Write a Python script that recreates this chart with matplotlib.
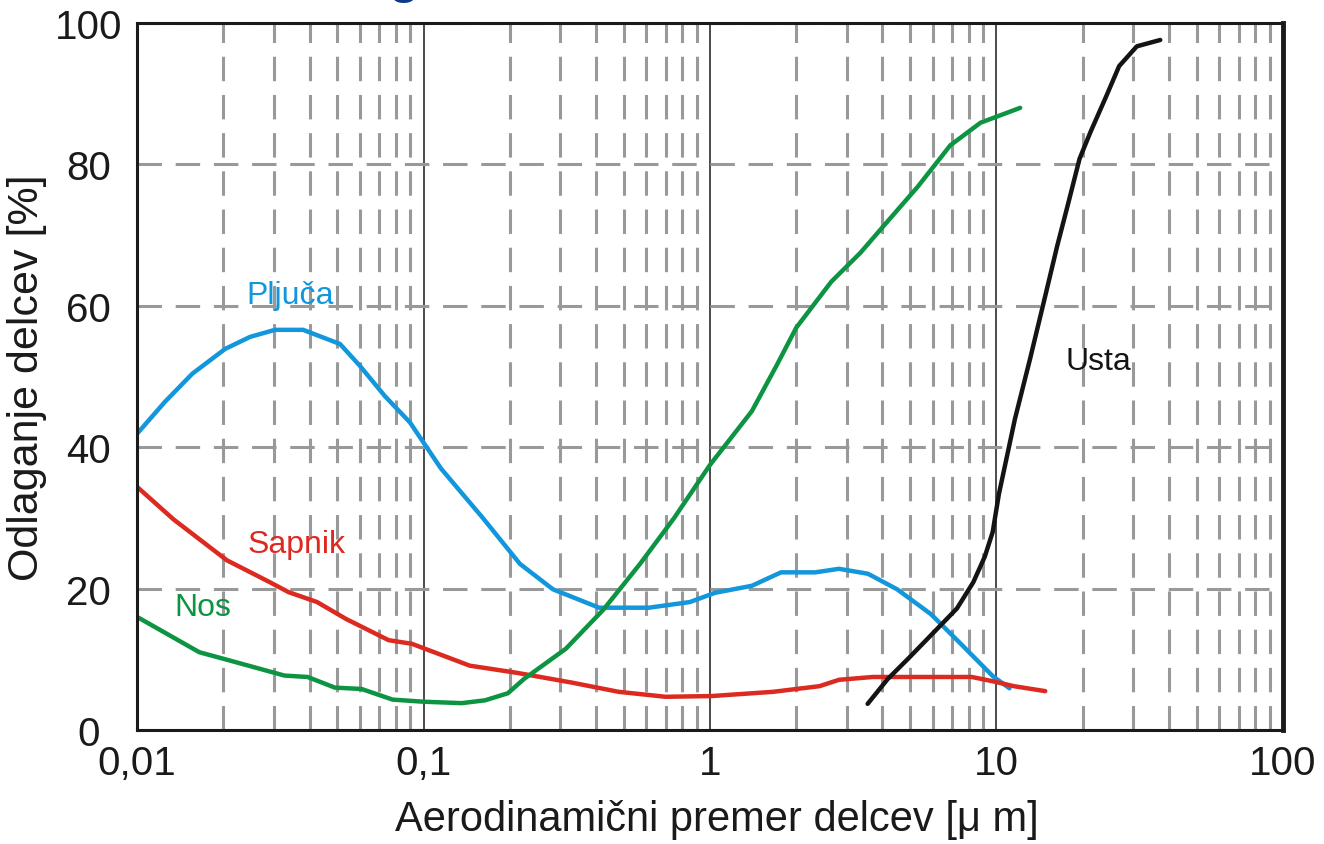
import matplotlib.pyplot as plt
from matplotlib.ticker import FixedLocator, FixedFormatter, LogLocator, NullFormatter

plt.rcParams['font.family'] = ['Liberation Sans', 'DejaVu Sans']

# Values (x in um, y in %)
pluca_x = [0.0100, 0.0125, 0.0156, 0.0203, 0.0248, 0.0303, 0.0380, 0.0511, 0.060, 0.0734,
           0.0897, 0.115, 0.161, 0.217, 0.283, 0.410, 0.612, 0.851, 1.04, 1.40, 1.77,
           2.33, 2.82, 3.56, 4.50, 5.90, 7.46, 9.72, 11.1]
pluca_y = [41.9, 46.4, 50.4, 53.9, 55.6, 56.6, 56.6, 54.6, 51.5, 47.2,
           43.5, 37.0, 30.0, 23.5, 19.9, 17.3, 17.3, 18.1, 19.4, 20.4, 22.3,
           22.3, 22.8, 22.1, 19.9, 16.4, 12.3, 7.6, 5.9]

nos_x = [0.0100, 0.0121, 0.0165, 0.0212, 0.0327, 0.0394, 0.049, 0.0608, 0.078, 0.100,
         0.136, 0.164, 0.197, 0.224, 0.314, 0.424, 0.57, 0.75, 1.0, 1.40, 1.71, 2.0,
         2.65, 3.35, 4.2, 5.3, 6.9, 8.8, 12.1]
nos_y = [16.0, 14.1, 11.0, 9.8, 7.7, 7.5, 6.0, 5.8, 4.3, 4.0,
         3.8, 4.2, 5.2, 7.2, 11.5, 17.0, 23.5, 30.0, 37.5, 45.1, 51.6, 56.9,
         63.4, 67.5, 72.1, 76.8, 82.7, 85.9, 88.0]

sapnik_x = [0.0100, 0.0134, 0.0206, 0.0291, 0.0338, 0.0425, 0.0537, 0.0756, 0.091, 0.145,
            0.211, 0.33, 0.48, 0.70, 1.01, 1.66, 2.41, 2.82, 3.70, 8.2, 9.7, 11.5, 14.8]
sapnik_y = [34.4, 29.8, 24.0, 20.9, 19.5, 18.1, 15.7, 12.7, 12.2, 9.1,
            8.1, 6.7, 5.4, 4.7, 4.8, 5.4, 6.2, 7.1, 7.5, 7.5, 6.9, 6.2, 5.5]

usta_x = [3.55, 4.17, 4.92, 6.38, 7.28, 8.3, 9.1, 9.7, 10.2, 11.6, 13.1, 14.8, 16.3,
          17.7, 19.5, 21.3, 24.2, 26.8, 30.9, 37.3]
usta_y = [3.7, 7.2, 10.1, 14.8, 17.2, 20.9, 24.5, 28.0, 33.4, 44.0, 52.5, 61.4, 68.5,
          74.1, 80.8, 84.6, 89.7, 93.9, 96.7, 97.6]

xticks = [0.01, 0.1, 1, 10, 100]
xtick_labels = ['0,01', '0,1', '1', '10', '100']
yticks = [0, 20, 40, 60, 80, 100]

blue = '#1296dc'
red = '#dc2a20'
green = '#0d9442'
black = '#141414'
grey = '#999999'

fig = plt.figure(figsize=(13.24, 8.45), dpi=100)
ax = fig.add_axes([0.1035, 0.1349, 0.8655, 0.8367])

ax.set_xscale('log')
ax.set_xlim(0.01, 100)
ax.set_ylim(0, 100)

# grid: solid black decades, dashed grey minor verticals and horizontals
ax.xaxis.set_major_locator(FixedLocator(xticks))
ax.xaxis.set_major_formatter(FixedFormatter(xtick_labels))
ax.xaxis.set_minor_locator(LogLocator(base=10, subs=range(2, 10)))
ax.xaxis.set_minor_formatter(NullFormatter())
ax.set_yticks(yticks)
ax.grid(which='major', axis='x', color='#1a1a1a', lw=1.1, ls='-')
ax.grid(which='minor', axis='x', color=grey, lw=2.2, ls=(0, (8, 4.5)))
ax.grid(which='major', axis='y', color=grey, lw=2.2, ls=(0, (8, 4.5)))
ax.set_axisbelow(True)

ax.tick_params(which='both', length=0)
ax.tick_params(axis='x', labelsize=29, pad=10, colors='#1a1a1a')
ax.tick_params(axis='y', labelsize=29, pad=35, colors='#1a1a1a')
for lab in ax.get_yticklabels():
    lab.set_horizontalalignment('center')

for side in ['left', 'bottom', 'top']:
    ax.spines[side].set_linewidth(2.2)
    ax.spines[side].set_color('#1a1a1a')
ax.spines['right'].set_linewidth(3.5)
ax.spines['right'].set_color('#1a1a1a')

ax.plot(pluca_x, pluca_y, color=blue, lw=3.2, solid_capstyle='round', solid_joinstyle='round')
ax.plot(sapnik_x, sapnik_y, color=red, lw=3.2, solid_capstyle='round', solid_joinstyle='round')
ax.plot(nos_x, nos_y, color=green, lw=3.2, solid_capstyle='round', solid_joinstyle='round')
ax.plot(usta_x, usta_y, color=black, lw=3.2, solid_capstyle='round', solid_joinstyle='round')

ax.text(0.0342, 61.5, 'Pljuča', color=blue, fontsize=23, ha='center', va='center')
ax.text(0.0359, 26.3, 'Sapnik', color=red, fontsize=23, ha='center', va='center')
ax.text(0.0170, 17.4, 'Nos', color=green, fontsize=23, ha='center', va='center')
ax.text(22.6, 52.2, 'Usta', color=black, fontsize=23, ha='center', va='center')

ax.set_xlabel('Aerodinamični premer delcev [μ m]', fontsize=30, color='#1a1a1a')
ax.xaxis.set_label_coords(0.506, -0.098)
ax.set_ylabel('Odlaganje delcev [%]', fontsize=31, color='#1a1a1a')
ax.yaxis.set_label_coords(-0.079, 0.5)

# title sits above the crop in the reference, only the descender of the "g" shows
fig.text(404 / 1324, 1 + 9 / 845, 'g', fontsize=42, color='#0b3a8a',
         ha='center', va='baseline')

plt.savefig('out.png', dpi=100)
